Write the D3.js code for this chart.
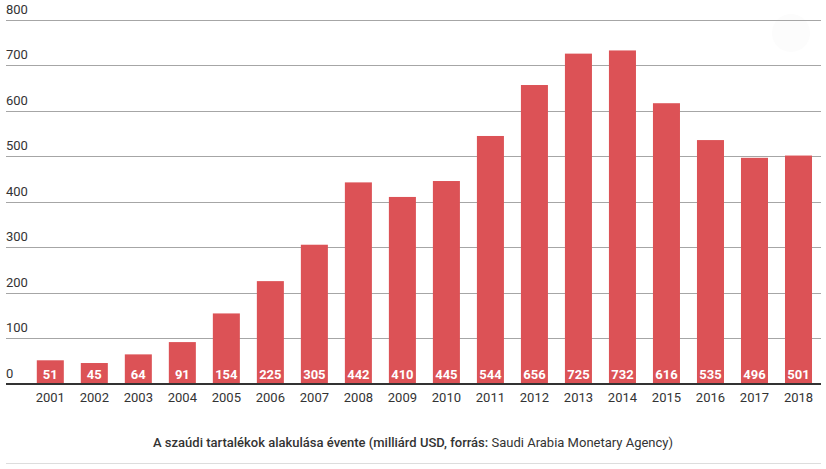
<!DOCTYPE html>
<html><head><meta charset="utf-8">
<script src="https://cdn.jsdelivr.net/npm/d3@7"></script>
<style>body{margin:0;background:#fff;}svg{display:block;font-family:Roboto,"Open Sans",sans-serif;}</style>
</head><body>
<svg id="c" width="826" height="469"></svg>
<script>
const years = ["2001","2002","2003","2004","2005","2006","2007","2008","2009","2010","2011","2012","2013","2014","2015","2016","2017","2018"];
const reserves = [51,45,64,91,154,225,305,442,410,445,544,656,725,732,616,535,496,501];
const yTicks = [0,100,200,300,400,500,600,700,800];
const titleBold = "A szaúdi tartalékok alakulása évente (milliárd USD, forrás: ";
const titleNormal = "Saudi Arabia Monetary Agency)";

const svg = d3.select("#c");
const left = 6, right = 821;
const x = d3.scaleBand().domain(years).range([28.3, 820.5]).paddingInner(0.386).paddingOuter(0.193);
const y = d3.scaleLinear().domain([0, 800]).range([383.5, 19.5]);

// faint watermark circle
svg.append("circle").attr("cx", 791).attr("cy", 33).attr("r", 19).attr("fill", "#fcfcfc");

// gridlines
const grid = svg.append("g");
grid.selectAll("line").data(yTicks.filter(d => d > 0)).join("line")
  .attr("x1", left).attr("x2", right)
  .attr("y1", d => Math.round(y(d)) + 0.5).attr("y2", d => Math.round(y(d)) + 0.5)
  .attr("stroke", "#a6a6a6").attr("stroke-width", 1);
grid.selectAll("text").data(yTicks).join("text")
  .attr("x", left).attr("y", d => y(d) - 6)
  .attr("font-size", 13).attr("fill", "#333").text(d => d);

// bars
svg.append("g").selectAll("rect").data(reserves).join("rect")
  .attr("x", (d, i) => x(years[i])).attr("width", x.bandwidth())
  .attr("y", d => y(d)).attr("height", d => y(0) - y(d))
  .attr("fill", "#dc5256");

// value labels
svg.append("g").selectAll("text").data(reserves).join("text")
  .attr("x", (d, i) => x(years[i]) + x.bandwidth() / 2).attr("y", y(0) - 4.5)
  .attr("text-anchor", "middle").attr("font-size", 13).attr("font-weight", "bold")
  .attr("fill", "#fff").text(d => d);

// baseline
svg.append("line").attr("x1", left).attr("x2", right).attr("y1", y(0) + 0.5).attr("y2", y(0) + 0.5)
  .attr("stroke", "#333").attr("stroke-width", 2);

// x axis labels
const xAxis = svg.append("g").attr("transform", `translate(0,${y(0) + 1})`)
  .call(d3.axisBottom(x).tickSize(0).tickPadding(8));
xAxis.select(".domain").remove();
xAxis.selectAll("text").attr("font-size", 13).attr("fill", "#333").attr("font-family", "Roboto, sans-serif");

// title
const t = svg.append("text").attr("x", 413).attr("y", 447).attr("text-anchor", "middle")
  .attr("font-size", 13).attr("fill", "#333");
t.append("tspan").attr("font-weight", 500).text(titleBold);
t.append("tspan").attr("font-weight", 400).text(titleNormal);

// bottom rule
svg.append("line").attr("x1", left).attr("x2", right).attr("y1", 463.5).attr("y2", 463.5)
  .attr("stroke", "#ddd").attr("stroke-width", 1);
</script>
</body></html>
